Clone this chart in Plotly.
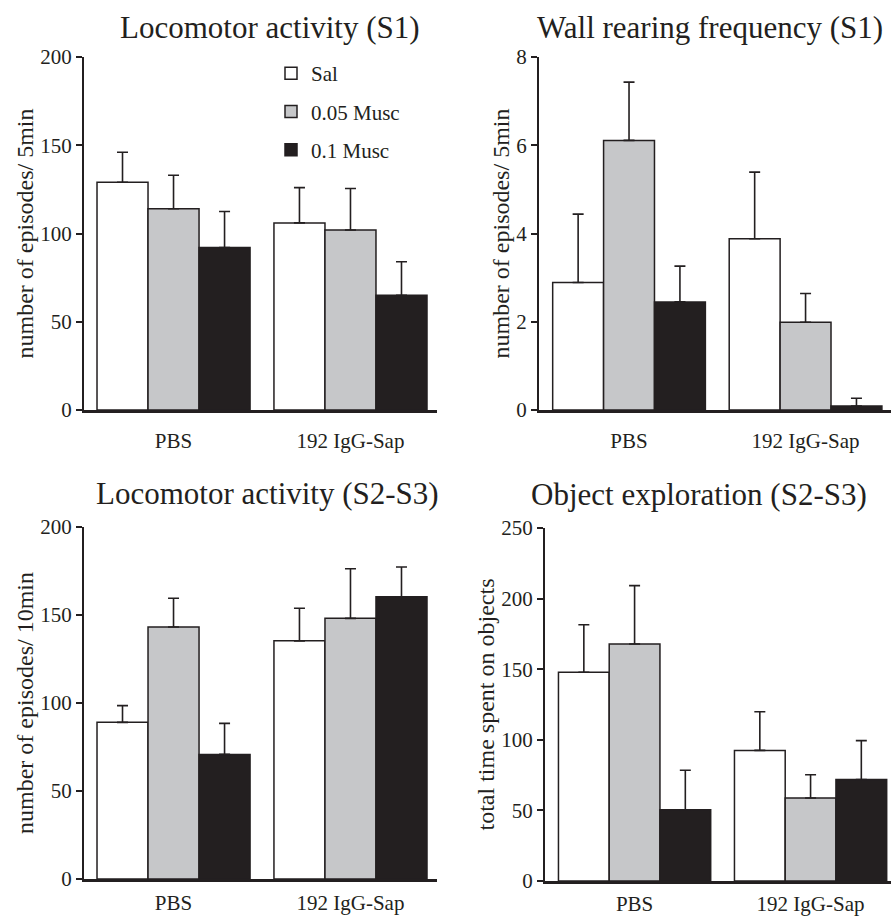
import plotly.graph_objects as go

W, H = 891, 916

groups = ["PBS", "192 IgG-Sap"]
series = ["Sal", "0.05 Musc", "0.1 Musc"]

# Locomotor activity (S1)
loco_s1_sal = [129, 106]
loco_s1_m005 = [114, 102]
loco_s1_m01 = [92, 65]
loco_s1_sal_err = [17, 20]
loco_s1_m005_err = [19, 23.5]
loco_s1_m01_err = [20.5, 19]

# Wall rearing frequency (S1)
rear_s1_sal = [2.89, 3.88]
rear_s1_m005 = [6.11, 1.99]
rear_s1_m01 = [2.45, 0.09]
rear_s1_sal_err = [1.55, 1.51]
rear_s1_m005_err = [1.32, 0.65]
rear_s1_m01_err = [0.81, 0.175]

# Locomotor activity (S2-S3)
loco_s23_sal = [89, 135.3]
loco_s23_m005 = [143.2, 148.1]
loco_s23_m01 = [70.8, 160.4]
loco_s23_sal_err = [9.5, 18.5]
loco_s23_m005_err = [16.3, 28.2]
loco_s23_m01_err = [17.6, 16.9]

# Object exploration (S2-S3)
obj_sal = [147.8, 92.5]
obj_m005 = [167.8, 58.8]
obj_m01 = [50.5, 71.8]
obj_sal_err = [33.7, 27.4]
obj_m005_err = [41.4, 16.5]
obj_m01_err = [27.9, 27.6]

titles = ["Locomotor activity (S1)", "Wall rearing frequency (S1)",
          "Locomotor activity (S2-S3)", "Object exploration (S2-S3)"]
ytitles = ["number of episodes/ 5min", "number of episodes/ 5min",
           "number of episodes/ 10min", "total time spent on objects"]
yticks = [[0, 50, 100, 150, 200], [0, 2, 4, 6, 8],
          [0, 50, 100, 150, 200], [0, 50, 100, 150, 200, 250]]

panels = [
    ([loco_s1_sal, loco_s1_m005, loco_s1_m01], [loco_s1_sal_err, loco_s1_m005_err, loco_s1_m01_err]),
    ([rear_s1_sal, rear_s1_m005, rear_s1_m01], [rear_s1_sal_err, rear_s1_m005_err, rear_s1_m01_err]),
    ([loco_s23_sal, loco_s23_m005, loco_s23_m01], [loco_s23_sal_err, loco_s23_m005_err, loco_s23_m01_err]),
    ([obj_sal, obj_m005, obj_m01], [obj_sal_err, obj_m005_err, obj_m01_err]),
]

INK = "#231f20"
fills = ["#ffffff", "#c6c7c9", "#231f20"]
FONT = "Liberation Serif, Times New Roman, serif"

# plot areas in pixels: (x0, x1, ytop, ybottom), x range
boxes = [
    (84, 437, 57, 410, [-0.506, 1.489]),
    (539, 891, 57, 410, [-0.51, 1.484]),
    (84, 437, 527, 879, [-0.506, 1.489]),
    (545, 891, 528, 881, [-0.509, 1.457]),
]
ymax = [200, 8, 200, 250]
standoffs = [10, 10, 3, 2]

fig = go.Figure()
layout = {}
for p, ((means, errs), box) in enumerate(zip(panels, boxes)):
    x0, x1, yt, yb, xr = box
    sfx = "" if p == 0 else str(p + 1)
    for s in range(3):
        fig.add_trace(go.Bar(
            x=groups, y=means[s], name=series[s],
            xaxis="x" + sfx, yaxis="y" + sfx,
            marker=dict(color=fills[s], line=dict(color=INK, width=1.5)),
            error_y=dict(type="data", symmetric=False, array=errs[s],
                         arrayminus=[0, 0], color=INK, thickness=1.6, width=5.5),
            showlegend=(p == 0), legendgroup=series[s],
        ))
    layout["xaxis" + sfx] = dict(
        domain=[x0 / W, x1 / W], anchor="y" + sfx, type="category",
        range=xr, showline=True, linecolor=INK, linewidth=2.5,
        ticks="", ticklabelstandoff=standoffs[p], automargin=False,
        tickfont=dict(family=FONT, size=21, color=INK),
        showgrid=False, zeroline=False, fixedrange=True,
    )
    layout["yaxis" + sfx] = dict(
        domain=[1 - yb / H, 1 - yt / H], anchor="x" + sfx,
        range=[0, ymax[p]], tickvals=yticks[p], automargin=False,
        showline=True, linecolor=INK, linewidth=2,
        ticks="outside", ticklen=6, tickwidth=2, tickcolor=INK,
        tickfont=dict(family=FONT, size=21, color=INK),
        showgrid=False, zeroline=False,
        title=dict(text=ytitles[p], font=dict(family=FONT, size=24, color=INK), standoff=0),
    )

title_pos = [(269.5, 28), (709.5, 28), (267, 493), (699, 495)]
annotations = []
for t, (tx, ty) in zip(titles, title_pos):
    annotations.append(dict(text=t, x=tx / W, y=1 - ty / H, xref="paper", yref="paper",
                            showarrow=False, xanchor="center", yanchor="middle",
                            font=dict(family=FONT, size=31, color=INK)))

fig.update_layout(
    width=W, height=H, margin=dict(l=0, r=0, t=0, b=0, autoexpand=False),
    paper_bgcolor="white", plot_bgcolor="white",
    barmode="group", bargap=0.135, bargroupgap=0,
    annotations=annotations,
    legend=dict(x=271 / W, y=1 - 53 / H, xanchor="left", yanchor="top",
                font=dict(family=FONT, size=21, color=INK),
                tracegroupgap=8, bgcolor="rgba(0,0,0,0)", itemclick=False),
    showlegend=True,
    **layout,
)

fig.write_html("out.html", config={"displayModeBar": False},
               post_script="document.body.style.margin='0px';document.body.style.overflow='hidden';")
